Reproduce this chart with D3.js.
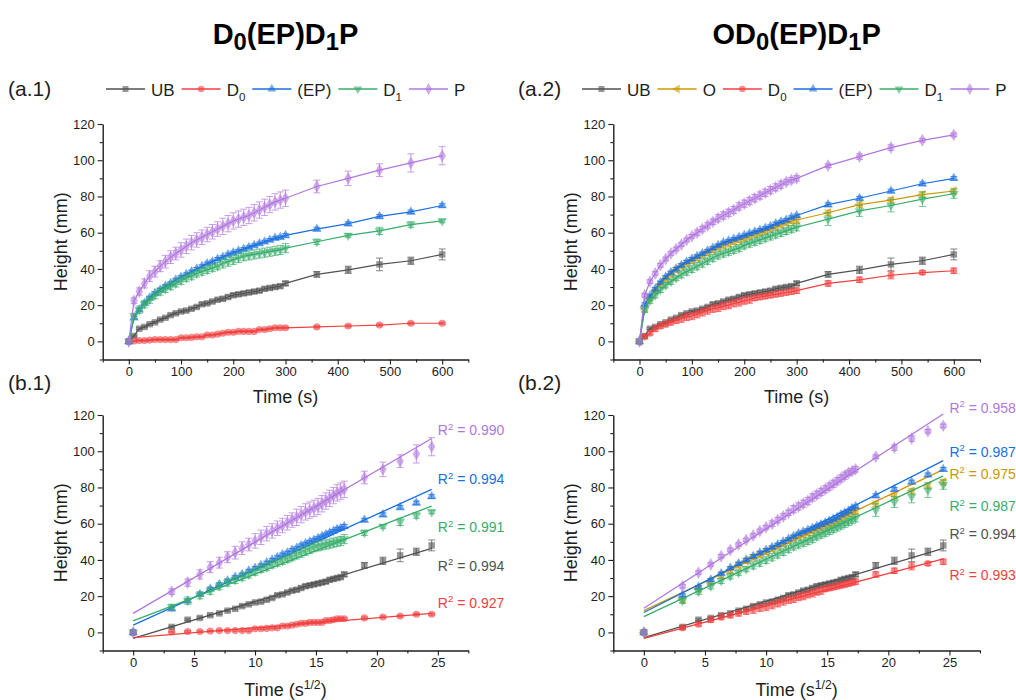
<!DOCTYPE html>
<html>
<head>
<meta charset="utf-8">
<script src="https://cdn.jsdelivr.net/npm/d3@7"></script>
<style>
  body { margin: 0; background: #fff; }
  svg { display: block; font-family: "Liberation Sans", Arial, sans-serif; }
</style>
</head>
<body>
<svg id="chart" width="1016" height="700"></svg>
<script>
// ---- sampling times (s) ----
const timeS = [0,10,20,30,40,50,60,70,80,90,100,110,120,130,140,150,160,170,180,190,
               200,210,220,230,240,250,260,270,280,290,300,360,420,480,540,600];

// ---- tick values ----
const timeTicks = [0,100,200,300,400,500,600];
const timeMinor = [-50,50,150,250,350,450,550,650];
const rootTicks = [0,5,10,15,20,25];
const rootMinor = [-2.5,2.5,7.5,12.5,17.5,22.5,27.5];
const heightTicks = [0,20,40,60,80,100,120];
const heightMinor = [-10,10,30,50,70,90,110];

// ---- D0(EP)D1P column (mm) ----
const ubHeight = [0,3,7,8,9.5,10.5,12,13,14.5,15.5,16.5,17,18,19,20.5,21,22,23,23.5,24.5,
                  25.5,26,26.5,27,27.5,28,29,29.5,30,30.5,32,37,39.5,42.5,44.5,48];
const ubErr    = [0,0.5,0.5,0.5,0.5,0.5,0.5,0.5,0.6,0.6,0.6,0.7,0.7,0.7,0.8,0.8,0.8,0.8,1,1,
                  1,1,1,1,1,1,1,1,1,1,1.2,1.5,2,3.5,2,3];

const d0HeightA = [0,0.2,0.5,0.5,0.7,1,1,1,1,1,2,2,2.2,2.5,2.5,3.5,3.5,4,4.5,5,
                   5,5.5,5.5,5.5,5.5,6.5,6.5,7,7.5,7.5,7.5,8,8.5,9,10,10];
const d0ErrA    = [0,0.4,0.4,0.4,0.4,0.4,0.4,0.4,0.4,0.4,0.4,0.4,0.4,0.4,0.4,0.4,0.4,0.4,0.4,0.4,
                   0.4,0.4,0.4,0.4,0.4,0.4,0.4,0.4,0.4,0.4,0.5,0.5,0.5,0.5,0.5,0.5];

const epHeightA = [0,13,17.5,21,24,26.5,28.5,30.5,32,34,35.5,37,38.5,40,41.5,43,44,45.5,46.5,48,
                   49,50,51,52,53,54,55,56,57,57.5,58.5,62,65,69,71.5,75];
const epErrA    = [0,0.8,0.8,0.8,0.8,0.8,0.8,0.8,0.8,0.8,0.8,0.8,0.8,0.8,0.8,0.8,0.8,0.8,0.8,0.8,
                   0.8,0.8,0.8,0.8,0.8,0.8,0.8,0.8,0.8,0.8,1,1,1,1,1,1];

const d1HeightA = [0,14,17.5,20.5,23,25.5,27.5,29,30.5,32,33.5,35,36,37.5,38.5,39.5,40.5,41.5,43,44,
                   45,46,47,47.5,48,48.5,49,49.5,50,50.5,51.5,55,58.5,61,64.5,66.5];
const d1ErrA    = [0,1.5,2,2,2,2,2,2,2,2,2,2,2,2,2,2,2,2,2.5,2.5,
                   2.5,2.5,2.5,2.5,2.5,2.5,2.5,2.5,2.5,2.5,2.5,1.5,1,2,1.5,1];

const pHeightA = [0,22.5,27.5,32,36,38.5,41.5,44,46.5,48.5,50.5,52.5,54.5,56,57.5,59,60.5,62,63.5,65,
                  66.5,67.5,68.5,69.5,71,72.5,74,75.5,77,78,79,85.5,90,94.5,98.5,102.5];
const pErrA    = [0,1.5,2,2.5,3,3,3,3.5,3.5,3.5,4,4,4,4,4,4,4,4,4.5,4.5,
                  4.5,4.5,4.5,4.5,4.5,4.5,4.5,4.5,4.5,4.5,4.5,3.5,4,3.5,5,5];

// ---- OD0(EP)D1P column (mm) ----
const oHeightB = [0,18,24,28,31.5,34.5,37,39.5,41.5,43,44.5,46,47.5,49,50.5,52,53,54,55,56,
                  57,58,59,60,61,62,63,64.5,65.5,66.5,67,71,75.5,78,81,83];
const oErrB    = [0,1.5,1.5,1.5,1.5,1.5,1.5,1.5,1.5,1.5,1.5,1.5,1.5,1.5,1.5,1.5,1.5,1.5,1.5,1.5,
                  1.5,1.5,1.5,1.5,1.5,1.5,1.5,1.5,1.5,1.5,1.5,1.5,1.5,1.5,1.5,1.5];

const d0HeightB = [0,2.5,4.5,7,8.5,9.5,10.5,11.5,12.5,13.5,14,15,16,17,18,18.5,19.5,20,21,21.5,
                   22.5,23,24,24.5,25,25.5,26,26.5,27,27.5,28,32,34,36.5,38,39];
const d0ErrB    = [0,1,1,1.5,1.5,1.5,1.5,1.5,2,2,2,2,2,2,2,2,2,2,2,2,
                   2,2,1.5,1.5,1.5,1.5,1.5,1.5,1.5,1.5,1.5,1.5,1.5,2,1,1.5];

const epHeightB = [0,20.5,25,29,32.5,35.5,38,40,42,44,45.5,47,48.5,50,51.5,53,54.5,55.5,56.5,57.5,
                   58.5,59.5,60.5,61.5,62.5,63.5,65,66,67,68.5,69.5,75.5,79,83,87,90];
const epErrB    = [0,0.8,0.8,0.8,0.8,0.8,0.8,0.8,0.8,0.8,0.8,0.8,0.8,0.8,0.8,0.8,0.8,0.8,0.8,0.8,
                   0.8,0.8,0.8,0.8,0.8,0.8,0.8,0.8,0.8,0.8,0.8,1,1,1,1,1];

const d1HeightB = [0,17.5,22.5,25.5,28.5,31,33,35,37,38.5,40,41.5,43,44.5,46,47.5,48.5,49.5,50.5,51.5,
                   53,54,55,56,57,58,59,60,61,62,63,67.5,72,75,78.5,81.5];
const d1ErrB    = [0,1.5,1.5,1.5,1.5,1.5,1.5,1.5,2,2,2,2,2,2,2,2,2,2,2,2,
                   2,2,2,2,2,2,2,2,2,2,2,3.5,3,3.5,4,2.5];

const pHeightB = [0,25.5,33,37.5,42,45.5,48.5,51,53.5,56,58,60,62,64,66,68,69.5,71,72.5,74.5,
                  76,77.5,79,80.5,82,83.5,85,86.5,88,89,90,97,102,107,111,114];
const pErrB    = [0,1,1,1,1,1,1,1,1,1,1,1.5,1.5,1.5,1.5,2,2,2,2,2,
                  2,2,2,2,2,2,2,2,1.5,1.5,1.5,1,1.5,1.5,1,1];

// ---- linear fits vs sqrt(t): [intercept, slope], and R² ----
const fitA = { UB: [-3.3, 2.03], D0: [-2.9, 0.547], EP: [4.0, 3.06], D1: [6.3, 2.59], P: [10.5, 3.94] };
const fitB = { UB: [-2.9, 2.01], O: [12.0, 3.18], D0: [-3.3, 1.79], EP: [11.0, 3.42], D1: [8.7, 3.17], P: [13.3, 4.38] };
const r2A = { P: "0.990", EP: "0.994", D1: "0.991", UB: "0.994", D0: "0.927" };
const r2B = { P: "0.958", EP: "0.987", O: "0.975", D1: "0.987", UB: "0.994", D0: "0.993" };
// height (mm) at which each R² label sits, beside the last point
const r2PosA = { P: 108.9, EP: 81.9, D1: 55.4, UB: 34.0, D0: 13.6 };
const r2PosB = { P: 121.3, EP: 97.0, O: 84.8, D1: 67.1, UB: 51.4, D0: 28.9 };

// ---- series styling ----
const style = {
  UB: { color: "#515151", symbol: d3.symbolSquare,   size: 42, rotate: 0,   label: [["UB"]] },
  O:  { color: "#CC9900", symbol: d3.symbolTriangle, size: 40, rotate: -90, label: [["O"]] },
  D0: { color: "#F14040", symbol: d3.symbolCircle,   size: 40, rotate: 0,   label: [["D"],["0","sub"]] },
  EP: { color: "#1A6FDF", symbol: d3.symbolTriangle, size: 40, rotate: 0,   label: [["(EP)"]] },
  D1: { color: "#37AD6B", symbol: d3.symbolTriangle, size: 40, rotate: 180, label: [["D"],["1","sub"]] },
  P:  { color: "#B177DE", symbol: d3.symbolDiamond,  size: 48, rotate: 0,   label: [["P"]] }
};

const seriesA = [
  { key: "UB", h: ubHeight,  e: ubErr },
  { key: "D0", h: d0HeightA, e: d0ErrA },
  { key: "EP", h: epHeightA, e: epErrA },
  { key: "D1", h: d1HeightA, e: d1ErrA },
  { key: "P",  h: pHeightA,  e: pErrA }
];
const seriesB = [
  { key: "UB", h: ubHeight,  e: ubErr },
  { key: "O",  h: oHeightB,  e: oErrB },
  { key: "D0", h: d0HeightB, e: d0ErrB },
  { key: "EP", h: epHeightB, e: epErrB },
  { key: "D1", h: d1HeightB, e: d1ErrB },
  { key: "P",  h: pHeightB,  e: pErrB }
];

const svg = d3.select("#chart");
const AXIS = "#1e1e1e";
const INK = "#1e1e1e";

// writes text parts, with optional subscript / superscript pieces
function rich(textSel, parts, size, subScale = 0.68, subShift = 0.3) {
  let shift = 0;
  parts.forEach(([t, kind]) => {
    const ts = textSel.append("tspan").text(t);
    let target = 0;
    if (kind === "sub") { ts.attr("font-size", size * subScale); target = size * subShift; }
    else if (kind === "sup") { ts.attr("font-size", size * 0.68); target = -size * 0.38; }
    if (target !== shift) { ts.attr("dy", target - shift); shift = target; }
  });
  return textSel;
}

function drawPanel(opt) {
  const g = svg.append("g");
  const x = d3.scaleLinear().domain(opt.xDomain).range(opt.xRange);
  const y = d3.scaleLinear().domain([-10, 120]).range(opt.yRange);
  const xv = opt.root ? (t => Math.sqrt(t)) : (t => t);

  // axes: major ticks with labels, minor ticks without
  g.append("g").attr("transform", `translate(${opt.xRange[0]},0)`)
    .call(d3.axisLeft(y).tickValues(heightTicks).tickSize(5).tickPadding(3).tickSizeOuter(0));
  g.append("g").attr("transform", `translate(${opt.xRange[0]},0)`)
    .call(d3.axisLeft(y).tickValues(heightMinor).tickSize(3).tickFormat("").tickSizeOuter(0))
    .select(".domain").remove();
  g.append("g").attr("transform", `translate(0,${opt.yRange[0]})`)
    .call(d3.axisBottom(x).tickValues(opt.xTicks).tickSize(5).tickPadding(2.5).tickSizeOuter(0));
  g.append("g").attr("transform", `translate(0,${opt.yRange[0]})`)
    .call(d3.axisBottom(x).tickValues(opt.xMinor).tickSize(3).tickFormat("").tickSizeOuter(0))
    .select(".domain").remove();
  g.selectAll(".domain").attr("stroke", AXIS).attr("stroke-width", 1.4);
  g.selectAll(".tick line").attr("stroke", AXIS).attr("stroke-width", 1.1);
  g.selectAll(".tick text").attr("font-size", 13).attr("fill", INK)
    .attr("font-family", '"Liberation Sans", Arial, sans-serif');

  // axis titles
  g.append("text")
    .attr("transform", `translate(${opt.xRange[0] - 36},${(opt.yRange[0] + opt.yRange[1]) / 2}) rotate(-90)`)
    .attr("text-anchor", "middle").attr("font-size", 18).attr("fill", INK)
    .text("Height (mm)");
  const xt = g.append("text")
    .attr("x", (opt.xRange[0] + opt.xRange[1]) / 2).attr("y", opt.yRange[0] + opt.xTitleGap)
    .attr("text-anchor", "middle").attr("font-size", 18).attr("fill", INK);
  rich(xt, opt.root ? [["Time (s"], ["1/2", "sup"], [")"]] : [["Time (s)"]], 18);

  const plot = g.append("g");
  opt.series.forEach(s => {
    const st = style[s.key];
    const pts = timeS.map((t, i) => ({ x: xv(t), h: s.h[i], e: s.e[i] }));
    const sg = plot.append("g");

    if (opt.root) {
      const [b, m] = opt.fit[s.key];
      const xs = [0, Math.sqrt(timeS[timeS.length - 1])];
      sg.append("path")
        .attr("d", d3.line().x(d => x(d)).y(d => y(b + m * d))(xs))
        .attr("fill", "none").attr("stroke", st.color).attr("stroke-width", 1.3);
    } else {
      sg.append("path")
        .attr("d", d3.line().x(d => x(d.x)).y(d => y(d.h))(pts))
        .attr("fill", "none").attr("stroke", st.color).attr("stroke-width", 1.2);
    }

    // error bars
    const eb = sg.append("g").attr("stroke", st.color).attr("stroke-opacity", 0.7).attr("stroke-width", 1);
    pts.filter(d => d.e > 0).forEach(d => {
      const cx = x(d.x), y0 = y(d.h - d.e), y1 = y(d.h + d.e);
      eb.append("line").attr("x1", cx).attr("x2", cx).attr("y1", y0).attr("y2", y1);
      eb.append("line").attr("x1", cx - 3.5).attr("x2", cx + 3.5).attr("y1", y0).attr("y2", y0);
      eb.append("line").attr("x1", cx - 3.5).attr("x2", cx + 3.5).attr("y1", y1).attr("y2", y1);
    });

    // markers
    const sym = d3.symbol().type(st.symbol).size(st.size);
    sg.append("g").selectAll("path").data(pts).join("path")
      .attr("d", sym)
      .attr("transform", d => `translate(${x(d.x)},${y(d.h)}) rotate(${st.rotate})`)
      .attr("fill", st.color).attr("fill-opacity", 0.6);
  });

  // R² labels
  if (opt.root) {
    opt.series.forEach(s => {
      const t = g.append("text")
        .attr("x", x(25.0)).attr("y", y(opt.r2Pos[s.key]))
        .attr("font-size", 14).attr("fill", style[s.key].color);
      rich(t, [["R"], ["2", "sup"], [" = " + opt.r2[s.key]]], 14);
    });
  }

  // legend
  if (opt.legend) {
    const lg = g.append("g");
    let cx = opt.legend.x;
    const ly = opt.legend.y;
    opt.series.forEach(s => {
      const st = style[s.key];
      lg.append("line").attr("x1", cx).attr("x2", cx + 39).attr("y1", ly).attr("y2", ly)
        .attr("stroke", st.color).attr("stroke-width", 1.3);
      lg.append("path").attr("d", d3.symbol().type(st.symbol).size(st.size * 0.85)())
        .attr("transform", `translate(${cx + 19.5},${ly}) rotate(${st.rotate})`)
        .attr("fill", st.color).attr("fill-opacity", 0.6);
      const t = lg.append("text").attr("x", cx + 45).attr("y", ly + 7)
        .attr("font-size", 17).attr("fill", INK);
      rich(t, st.label, 17);
      cx += 45 + t.node().getComputedTextLength() + 7;
    });
  }
}

const colL = [102.7, 468.3], colR = [613.3, 980];
const rowTop = [359.5, 124], rowBot = [650.5, 415];

drawPanel({ xDomain: [-50, 650], xRange: colL, yRange: rowTop, xTicks: timeTicks, xMinor: timeMinor,
  root: false, series: seriesA, xTitleGap: 43, legend: { x: 106, y: 89 } });
drawPanel({ xDomain: [-50, 650], xRange: colR, yRange: rowTop, xTicks: timeTicks, xMinor: timeMinor,
  root: false, series: seriesB, xTitleGap: 43, legend: { x: 582, y: 89 } });
drawPanel({ xDomain: [-2.5, 27.5], xRange: colL, yRange: rowBot, xTicks: rootTicks, xMinor: rootMinor,
  root: true, series: seriesA, fit: fitA, r2: r2A, r2Pos: r2PosA, xTitleGap: 45 });
drawPanel({ xDomain: [-2.5, 27.5], xRange: colR, yRange: rowBot, xTicks: rootTicks, xMinor: rootMinor,
  root: true, series: seriesB, fit: fitB, r2: r2B, r2Pos: r2PosB, xTitleGap: 45 });

// panel tags
[["(a.1)", 8, 96], ["(a.2)", 518, 96], ["(b.1)", 8, 390], ["(b.2)", 518, 390]].forEach(([t, px, py]) => {
  svg.append("text").attr("x", px).attr("y", py).attr("font-size", 21).attr("fill", INK).text(t);
});

// column titles
const titleFont = '"Liberation Sans Narrow", "Liberation Sans", Arial, sans-serif';
[[[["D"],["0","sub"],["(EP)D"],["1","sub"],["P"]], (colL[0] + colL[1]) / 2],
 [[["OD"],["0","sub"],["(EP)D"],["1","sub"],["P"]], (colR[0] + colR[1]) / 2]].forEach(([parts, cx]) => {
  const t = svg.append("text").attr("x", cx).attr("y", 44).attr("text-anchor", "middle")
    .attr("font-size", 29).attr("font-weight", "bold").attr("font-family", titleFont).attr("fill", "#000");
  rich(t, parts, 29, 0.82, 0.22);
});
</script>
</body>
</html>
